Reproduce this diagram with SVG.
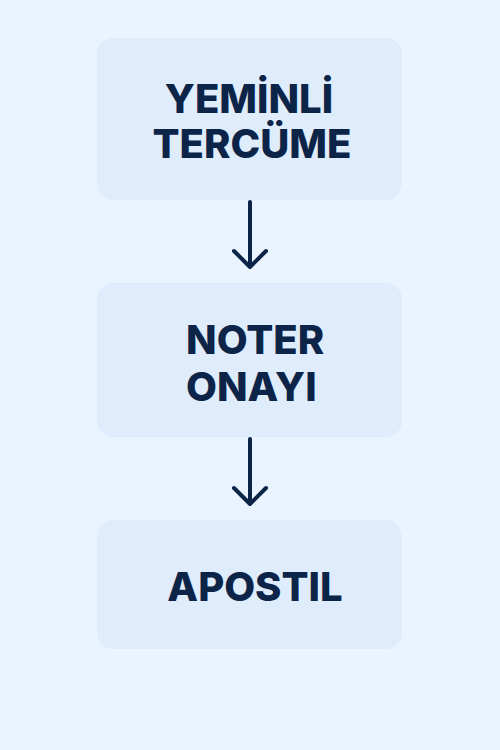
<svg xmlns="http://www.w3.org/2000/svg" width="500" height="750" viewBox="0 0 500 750">
<defs>
<style>
.box{fill:#DFECFB;}
.lbl{font-family:Inter,"Noto Sans","DejaVu Sans",sans-serif;font-weight:800;font-size:40px;fill:#0C2448;}
.mid{text-anchor:middle;}
.conn{fill:none;stroke:#0C2448;stroke-width:4;stroke-linecap:round;stroke-linejoin:round;}
</style>
</defs>
<rect width="500" height="750" fill="#EAF4FE"/>
<g id="node-yeminli">
<rect class="box" x="97" y="38" width="305" height="162" rx="16"/>
<text class="lbl mid" x="249" y="113">YEMİNLİ</text>
<text class="lbl mid" x="252" y="158">TERCÜME</text>
</g>
<g id="node-noter">
<rect class="box" x="97" y="283" width="305" height="154" rx="16"/>
<text class="lbl" x="186" y="354">NOTER</text>
<text class="lbl" x="186" y="401">ONAYI</text>
</g>
<g id="node-apostil">
<rect class="box" x="97" y="520" width="305" height="129" rx="16"/>
<text class="lbl mid" x="255" y="601">APOSTIL</text>
</g>
<g id="connectors">
<path class="conn" d="M250 202 V267 M234 251 L250 267 L266 251"/>
<path class="conn" d="M250 439 V504 M234 488 L250 504 L266 488"/>
</g>
</svg>
